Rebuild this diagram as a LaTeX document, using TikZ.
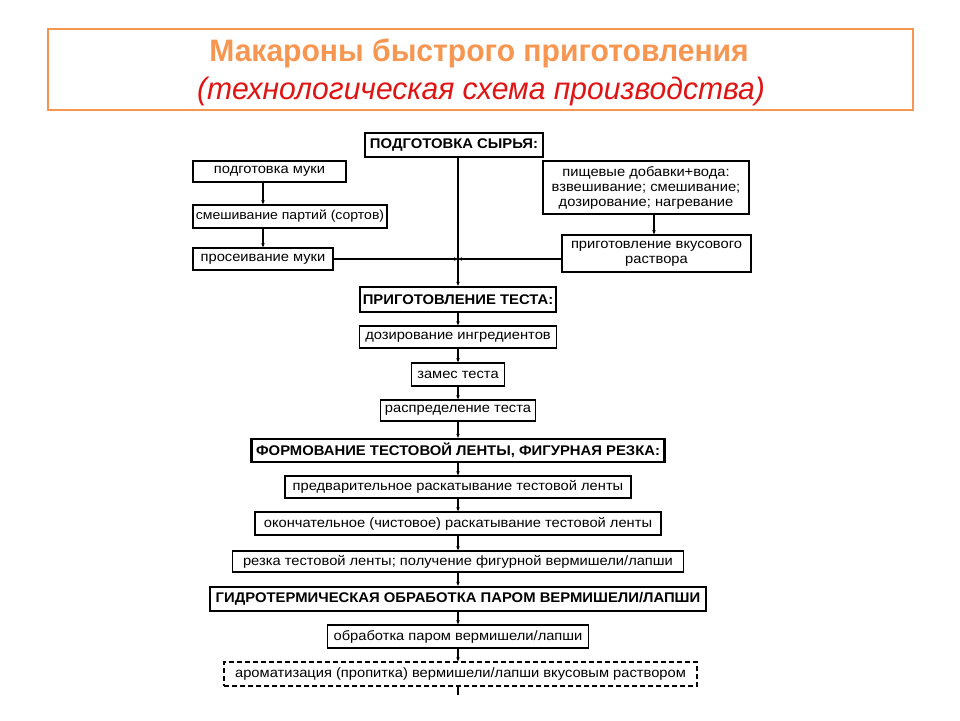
\documentclass[tikz,border=0pt]{standalone}
\usepackage{fontspec}
\setmainfont{Liberation Sans}
\newfontfamily\titlefont[FakeStretch=0.97]{Liberation Sans}
\newfontfamily\boxfont[FakeStretch=1.08]{Liberation Sans}
\newfontfamily\headfont[FakeStretch=1.06]{Liberation Sans}
\usetikzlibrary{arrows.meta}
\definecolor{ttlorange}{RGB}{247,150,80}
\definecolor{ttlred}{RGB}{225,20,20}
\tikzset{
  box/.style={draw, line width=1.4pt, inner sep=0pt, font=\boxfont\fontsize{13.6}{15}\selectfont},
  hbox/.style={box, line width=2.4pt, font=\headfont\fontsize{14}{15}\selectfont\bfseries},
  dbox/.style={box, dashed, dash pattern=on 5pt off 3pt},
  conn/.style={line width=1.4pt, -{Stealth[length=4pt,width=3.5pt]}},
}
\begin{document}
\begin{tikzpicture}[x=1pt,y=-1pt]
\useasboundingbox (0,0) rectangle (960,720);
\fill[white] (0,0) rectangle (960,720);
% title
\node[draw=ttlorange, line width=2pt, minimum width=865pt, minimum height=81pt, inner sep=0pt] (title) at (480.5,69.5) {};
\node[text=ttlorange, font=\titlefont\fontsize{31}{34}\selectfont\bfseries] (t1) at (479,53) {Макароны быстрого приготовления};
\node[text=ttlred, font=\titlefont\fontsize{31}{34}\selectfont\itshape] (t2) at (481,91) {(технологическая схема производства)};
% raw materials
\node[hbox, minimum width=178pt, minimum height=24pt] (podg) at (454,145) {ПОДГОТОВКА СЫРЬЯ:};
\node[box, minimum width=153pt, minimum height=21pt] (muka) at (269.5,171.5) {подготовка муки};
\node[box, minimum width=194pt, minimum height=23pt, font=\boxfont\fontsize{13}{15}\selectfont] (mix) at (290,216.5) {смешивание партий (сортов)};
\node[box, minimum width=140pt, minimum height=22pt] (sift) at (263,259) {просеивание муки};
\node[box, align=center, minimum width=206pt, minimum height=53pt] (add) at (646,187.5) {пищевые добавки+вода:\\взвешивание; смешивание;\\дозирование; нагревание};
\node[box, align=center, minimum width=189pt, minimum height=37pt] (sol) at (656.5,253.5) {приготовление вкусового\\раствора};
% dough
\node[hbox, minimum width=196pt, minimum height=25pt] (testo) at (458,299.5) {ПРИГОТОВЛЕНИЕ ТЕСТА:};
\node[box, minimum width=197pt, minimum height=22pt] (doz) at (458,337) {дозирование ингредиентов};
\node[box, minimum width=93pt, minimum height=23pt] (zames) at (458,374.5) {замес теста};
\node[box, minimum width=155pt, minimum height=21pt] (raspr) at (458,410.5) {распределение теста};
% forming
\node[hbox, minimum width=413pt, minimum height=23pt] (form) at (458,450.5) {ФОРМОВАНИЕ ТЕСТОВОЙ ЛЕНТЫ, ФИГУРНАЯ РЕЗКА:};
\node[box, minimum width=346pt, minimum height=22pt] (pred) at (458,487) {предварительное раскатывание тестовой ленты};
\node[box, minimum width=406pt, minimum height=23pt] (okon) at (458,523.5) {окончательное (чистовое) раскатывание тестовой ленты};
\node[box, minimum width=451pt, minimum height=21pt] (rezka) at (458,561.5) {резка тестовой ленты; получение фигурной вермишели/лапши};
% steam
\node[hbox, minimum width=496pt, minimum height=24pt] (gidro) at (458,599) {ГИДРОТЕРМИЧЕСКАЯ ОБРАБОТКА ПАРОМ ВЕРМИШЕЛИ/ЛАПШИ};
\node[box, minimum width=261pt, minimum height=23pt] (obr) at (458,636.5) {обработка паром вермишели/лапши};
\node[dbox, minimum width=473pt, minimum height=24pt] (arom) at (460.5,674) {ароматизация (пропитка) вермишели/лапши вкусовым раствором};
% connectors
\coordinate (j) at (testo.north |- sift.east);
\coordinate (end) at ([yshift=-8pt]arom.south -| testo.north);
\draw[line width=1.4pt] (podg.south -| testo.north) -- (j);
\draw[conn] (j) -- (testo.north);
\draw[conn] (sift.east) -- (j);
\draw[conn] (sol.west |- j) -- (j);
\draw[conn] (muka.south -| sift.north) -- (mix.north -| sift.north);
\draw[conn] (mix.south -| sift.north) -- (sift.north);
\draw[conn] (add.south -| 654,0) -- (sol.north -| 654,0);
\draw[conn] (testo) -- (doz);
\draw[conn] (doz) -- (zames);
\draw[conn] (zames) -- (raspr);
\draw[conn] (raspr) -- (form);
\draw[conn] (form) -- (pred);
\draw[conn] (pred) -- (okon);
\draw[conn] (okon) -- (rezka);
\draw[conn] (rezka) -- (gidro);
\draw[conn] (gidro) -- (obr);
\draw[conn] (obr.south) -- (arom.north -| obr.south);
\draw[line width=1.2pt] (arom.south -| testo.north) -- (end);
\end{tikzpicture}
\end{document}
